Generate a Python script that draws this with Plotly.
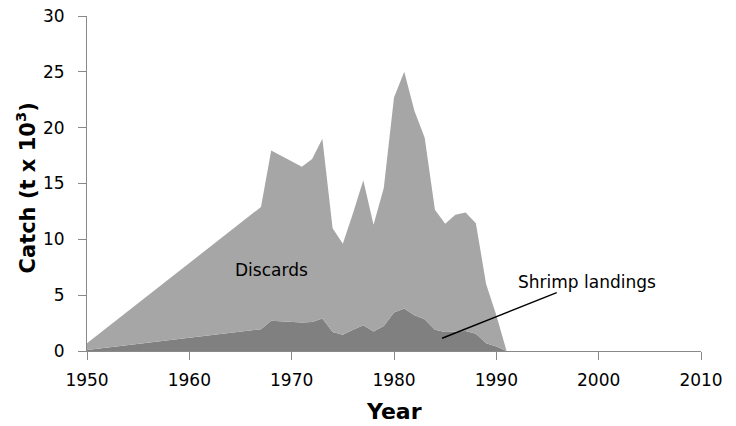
import plotly.graph_objects as go

years = [1950, 1967, 1968, 1971, 1972, 1973, 1974, 1975, 1976, 1977, 1978, 1979,
         1980, 1981, 1982, 1983, 1984, 1985, 1986, 1987, 1988, 1989, 1990, 1991]
shrimp = [0.1, 1.95, 2.7, 2.55, 2.6, 2.9, 1.7, 1.45, 1.9, 2.3, 1.75, 2.25,
          3.45, 3.8, 3.2, 2.85, 1.9, 1.7, 1.75, 1.8, 1.55, 0.7, 0.4, 0.0]
total = [0.7, 12.9, 17.96, 16.5, 17.2, 19.0, 11.0, 9.6, 12.35, 15.3, 11.3, 14.6,
         22.7, 25.0, 21.5, 19.1, 12.65, 11.4, 12.2, 12.4, 11.45, 6.0, 3.2, 0.0]
discards = [t - s for t, s in zip(total, shrimp)]

FONT = "DejaVu Sans"

fig = go.Figure()
fig.add_trace(go.Scatter(x=years, y=shrimp, stackgroup="a", mode="lines",
                         line=dict(width=0, color="#808080"), fillcolor="#808080",
                         name="Shrimp landings"))
fig.add_trace(go.Scatter(x=years, y=discards, stackgroup="a", mode="lines",
                         line=dict(width=0, color="#A6A6A6"), fillcolor="#A6A6A6",
                         name="Discards"))

fig.add_annotation(x=1968.0, y=7.25, text="Discards", showarrow=False,
                   font=dict(size=17, color="#000000", family=FONT))
fig.add_annotation(x=1998.9, y=6.2, text="Shrimp landings", showarrow=False,
                   font=dict(size=17, color="#000000", family=FONT))
fig.add_shape(type="line", xref="x", yref="y", x0=1984.7, y0=1.14, x1=1995.9, y1=5.23,
              line=dict(color="#000000", width=1.5))

# axis titles
fig.add_annotation(xref="paper", yref="paper", x=0.5, y=-0.181, text="<b>Year</b>",
                   showarrow=False, xanchor="center", yanchor="middle",
                   font=dict(size=22, color="#000000", family=FONT))
fig.add_annotation(xref="paper", yref="paper", x=-0.1, y=0.487,
                   text="<b>Catch (t x 10<sup>3</sup>)</b>", textangle=-90,
                   showarrow=False, xanchor="center", yanchor="middle",
                   font=dict(size=21, color="#000000", family=FONT))

axis_common = dict(showgrid=False, zeroline=False, showline=True, linecolor="#898989",
                   linewidth=1, ticks="outside", ticklen=8, tickcolor="#898989",
                   automargin=False,
                   tickfont=dict(size=17, color="#000000", family=FONT))
fig.update_xaxes(range=[1950, 2010], dtick=10, tick0=1950, ticklabelstandoff=6,
                 **axis_common)
fig.update_yaxes(range=[0, 30], dtick=5, ticklabelstandoff=10, **axis_common)
fig.update_layout(width=736, height=426, plot_bgcolor="white", paper_bgcolor="white",
                  showlegend=False, margin=dict(l=87, r=35, t=16, b=75, autoexpand=False))
fig.write_html("out.html", config={"displayModeBar": False},
               post_script="document.body.style.margin='0px';document.body.style.overflow='hidden';")
